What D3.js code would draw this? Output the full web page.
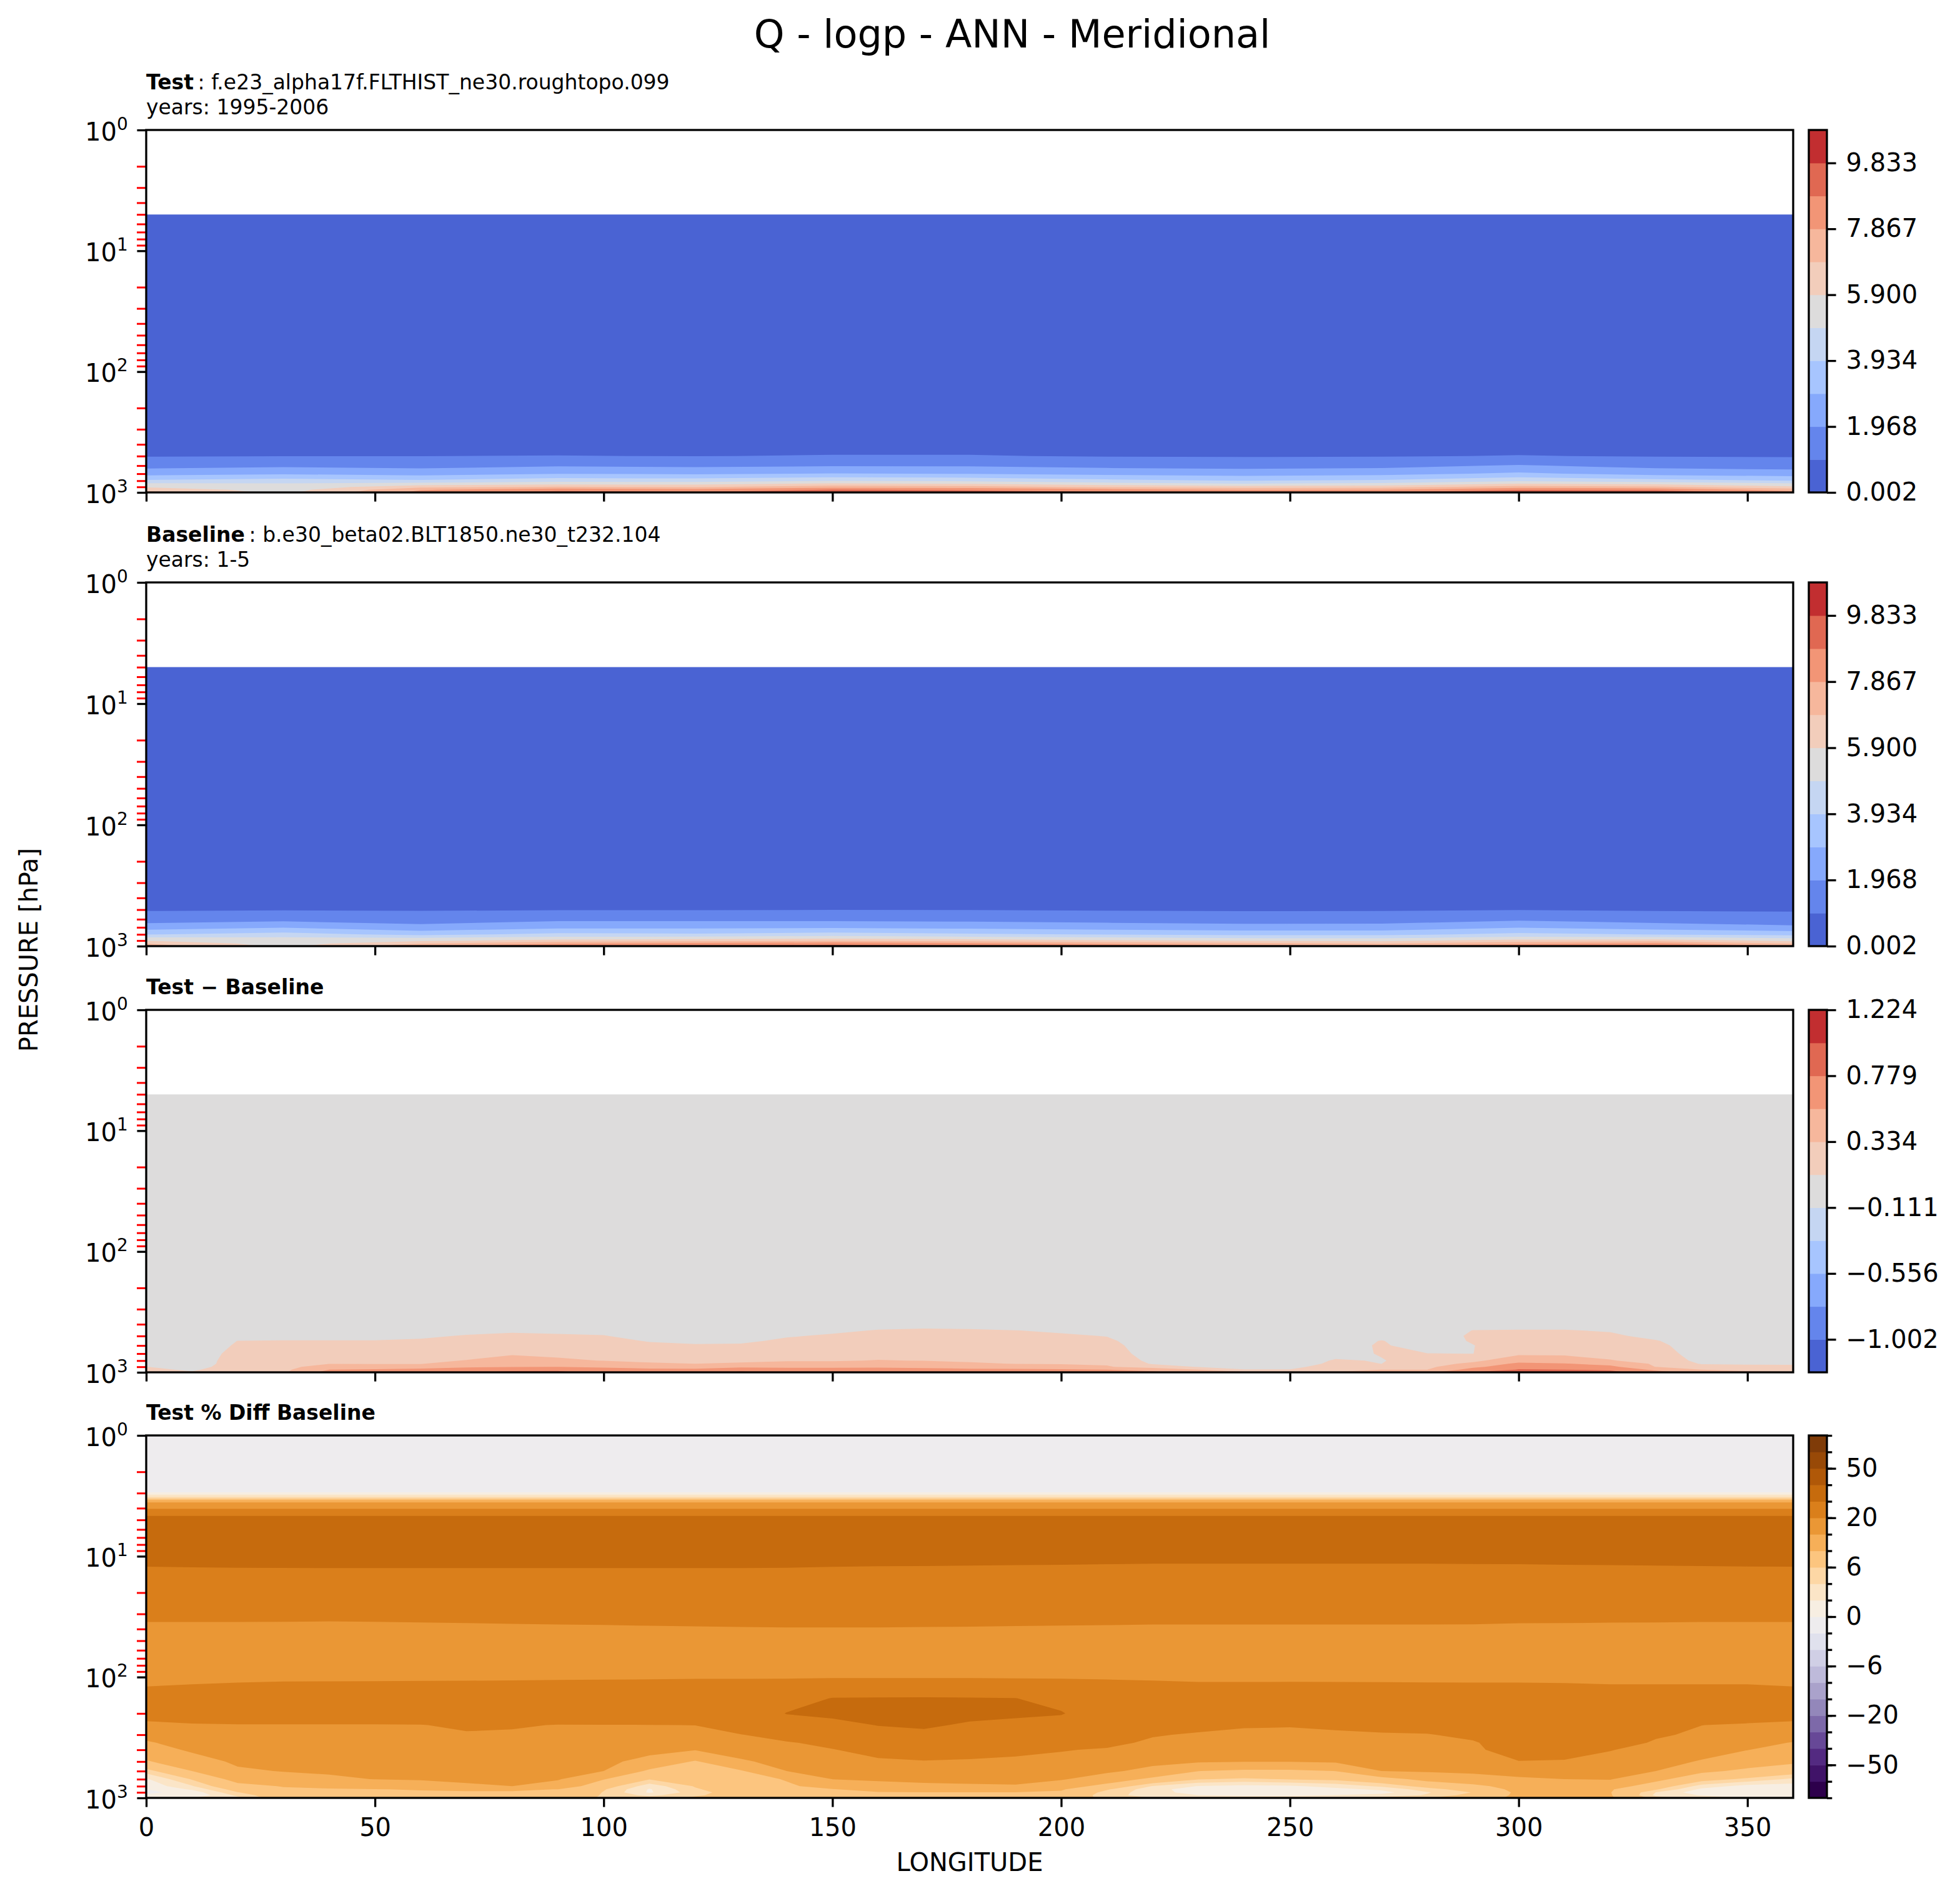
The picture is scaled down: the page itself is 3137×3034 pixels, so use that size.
<!DOCTYPE html>
<html>
<head>
<meta charset="utf-8">
<script src="https://cdn.jsdelivr.net/npm/d3@7"></script>
<style>
  body { margin: 0; background: #fff; }
  svg text { font-family: "DejaVu Sans", sans-serif; fill: #000; }
</style>
</head>
<body>
<div id="chart"></div>
<script>
// ---- grid axes ----
const lonCoarse = [0, 30, 60, 90, 120, 150, 180, 210, 240, 270, 300, 330, 360];
const lonFine = [0, 10, 20, 30, 40, 50, 60, 70, 80, 90, 100, 110, 120, 130, 140, 150, 160, 170, 180,
  190, 200, 210, 220, 230, 240, 250, 260, 270, 280, 290, 300, 310, 320, 330, 340, 350, 360];

// ---- Test Q (g/kg), rows = pressure levels, cols = lonCoarse ----
const levTest = [5, 300, 500, 600, 700, 800, 850, 900, 950, 1000];
const testQ = [
  [0.003, 0.003, 0.003, 0.003, 0.003, 0.003, 0.003, 0.003, 0.003, 0.003, 0.003, 0.003, 0.003],
  [0.30, 0.31, 0.30, 0.32, 0.31, 0.33, 0.32, 0.30, 0.29, 0.30, 0.32, 0.30, 0.29],
  [0.94, 0.97, 0.98, 1.00, 0.97, 1.02, 1.02, 0.94, 0.92, 0.94, 1.01, 0.94, 0.91],
  [1.62, 1.78, 1.66, 1.87, 1.78, 1.89, 1.87, 1.68, 1.60, 1.68, 2.05, 1.65, 1.54],
  [2.59, 2.83, 2.59, 2.92, 2.83, 2.99, 2.92, 2.68, 2.54, 2.66, 3.11, 2.63, 2.43],
  [4.12, 4.38, 4.12, 4.53, 4.47, 4.88, 4.71, 4.23, 3.92, 4.10, 4.75, 4.30, 3.92],
  [5.13, 5.04, 5.33, 5.67, 5.59, 6.10, 5.90, 5.36, 5.02, 5.18, 6.00, 5.70, 5.11],
  [5.76, 5.23, 6.59, 6.98, 6.79, 7.47, 7.28, 6.69, 6.39, 6.44, 7.38, 7.08, 6.10],
  [6.62, 5.43, 7.78, 8.48, 8.24, 8.90, 8.74, 8.24, 7.77, 7.87, 8.80, 8.60, 7.47],
  [7.20, 5.60, 8.20, 9.30, 9.00, 9.90, 9.20, 9.00, 9.00, 8.90, 9.40, 9.85, 8.30]
];

// ---- Baseline Q ----
const levBase = [5, 300, 500, 600, 700, 800, 850, 900, 950, 1000];
const baseQ = [
  [0.003, 0.003, 0.003, 0.003, 0.003, 0.003, 0.003, 0.003, 0.003, 0.003, 0.003, 0.003, 0.003],
  [0.29, 0.30, 0.29, 0.31, 0.30, 0.32, 0.31, 0.29, 0.28, 0.29, 0.31, 0.29, 0.28],
  [0.90, 0.93, 0.91, 0.94, 0.94, 0.96, 0.95, 0.92, 0.89, 0.90, 0.95, 0.90, 0.88],
  [1.51, 1.65, 1.49, 1.74, 1.74, 1.72, 1.66, 1.57, 1.47, 1.49, 1.78, 1.51, 1.38],
  [2.46, 2.87, 2.30, 2.73, 2.73, 2.79, 2.69, 2.49, 2.36, 2.36, 2.89, 2.51, 2.17],
  [3.88, 4.33, 3.64, 4.20, 4.09, 4.35, 4.09, 3.88, 3.66, 3.66, 4.20, 3.89, 3.64],
  [4.97, 5.00, 4.82, 5.18, 5.24, 5.45, 5.22, 4.99, 4.67, 4.67, 5.18, 5.10, 4.67],
  [5.81, 5.22, 5.65, 6.24, 6.48, 6.74, 6.44, 6.05, 5.79, 5.62, 6.24, 6.44, 5.62],
  [6.84, 5.41, 6.82, 7.79, 8.06, 8.47, 8.06, 7.55, 7.18, 6.82, 7.61, 8.06, 6.82],
  [7.50, 5.60, 8.00, 8.50, 9.00, 9.30, 9.00, 8.90, 8.30, 8.00, 8.60, 9.00, 8.00]
];

// ---- Test - Baseline, cols = lonFine ----
const levDiff = [5, 300, 400, 450, 500, 550, 600, 700, 800, 850, 900, 950, 1000];
const diffQ = [
  [0,0,0,0,0,0,0,0,0,0,0,0,0,0,0,0,0,0,0,0,0,0,0,0,0,0,0,0,0,0,0,0,0,0,0,0,0],
  [0,0,0,0,0,0,0,0,0,0,0,0,0,0,0,0,0,0,0,0,0,0,0,0,0,0,0,0,0,0,0,0,0,0,0,0,0],
  [0,0,0,0,0,0,0,0,0,0,0,0,0,0,0,0,0.038,0.063,0.054,0.022,0,0,0,0,0,0,0,0,0,0.016,0.038,0.035,0,0,0,0,0],
  [0,0,0,0,0,0,0,0.054,0.086,0.07,0.048,0,0,0,0.013,0.076,0.121,0.132,0.127,0.114,0.086,0.022,0,0,0,0,0,0,0,0.115,0.122,0.121,0.095,0,0,0,0],
  [0,0,0.04,0.058,0.058,0.058,0.079,0.125,0.146,0.134,0.121,0.025,0,0,0.095,0.135,0.16,0.167,0.161,0.149,0.136,0.105,0,0,0,0,0,0.057,0,0.14,0.164,0.163,0.145,0.057,0,0,0],
  [0,0,0.113,0.12,0.12,0.12,0.135,0.168,0.192,0.177,0.163,0.1,0.07,0.076,0.146,0.173,0.196,0.2,0.192,0.181,0.169,0.145,0,0,0,0,0,0.12,0,0.13,0.202,0.2,0.184,0.123,0,0,0],
  [0,0,0.13,0.146,0.165,0.163,0.173,0.206,0.235,0.216,0.2,0.151,0.132,0.136,0.186,0.207,0.228,0.23,0.221,0.211,0.2,0.179,0,0,0,0,0,0.14,0,0.105,0.237,0.236,0.219,0.16,0,0,0],
  [0,0,0.17,0.193,0.237,0.234,0.241,0.276,0.31,0.286,0.27,0.234,0.221,0.226,0.258,0.268,0.286,0.284,0.272,0.264,0.254,0.239,0,0,0,0,0.041,0.125,0.115,0.108,0.3,0.298,0.282,0.224,0,0,0],
  [0.02,0,0.2,0.232,0.299,0.295,0.298,0.34,0.419,0.37,0.327,0.304,0.297,0.302,0.318,0.32,0.34,0.329,0.315,0.308,0.3,0.29,0.051,0,0,0,0.13,0.1,0.2,0.29,0.456,0.432,0.343,0.278,0.044,0.035,0.035],
  [0.07,0,0.21,0.25,0.328,0.325,0.324,0.442,0.483,0.466,0.423,0.353,0.334,0.356,0.396,0.396,0.442,0.415,0.352,0.33,0.323,0.314,0.092,0.054,0,0,0.16,0.11,0.25,0.38,0.608,0.571,0.485,0.304,0.095,0.085,0.085],
  [0.114,0.03,0.22,0.27,0.432,0.434,0.459,0.53,0.54,0.55,0.527,0.49,0.469,0.512,0.52,0.52,0.53,0.509,0.476,0.456,0.412,0.349,0.247,0.098,0.067,0.067,0.19,0.2,0.29,0.5,0.712,0.675,0.614,0.327,0.198,0.17,0.165],
  [0.16,0.08,0.24,0.285,0.556,0.58,0.61,0.64,0.705,0.737,0.62,0.6,0.6,0.705,0.627,0.627,0.627,0.613,0.596,0.596,0.58,0.556,0.464,0.334,0.115,0.115,0.25,0.334,0.334,0.65,0.79,0.779,0.75,0.505,0.334,0.26,0.24],
  [0.2,0.13,0.25,0.3,0.65,0.7,0.72,0.75,0.85,0.83,0.7,0.7,0.7,0.82,0.72,0.72,0.72,0.72,0.7,0.7,0.68,0.65,0.62,0.45,0.4,0.38,0.35,0.5,0.5,0.8,0.95,0.9,0.85,0.65,0.45,0.4,0.35]
];

// ---- Test % Diff Baseline, cols = lonFine ----
const levPct = [1, 2.9, 3.1, 3.25, 3.35, 3.5, 4.1, 4.7, 8, 11, 13, 30, 45, 70, 100, 130, 150,
  200, 250, 300, 350, 400, 500, 600, 700, 800, 850, 900, 950, 1000];
const pctQ = [
  [-1,-1,-1,-1,-1,-1,-1,-1,-1,-1,-1,-1,-1,-1,-1,-1,-1,-1,-1,-1,-1,-1,-1,-1,-1,-1,-1,-1,-1,-1,-1,-1,-1,-1,-1,-1,-1],
  [-0.9,-0.9,-0.9,-0.9,-0.9,-0.9,-0.9,-0.9,-0.9,-0.9,-0.9,-0.9,-0.9,-0.9,-0.9,-0.9,-0.9,-0.9,-0.9,-0.9,-0.9,-0.9,-0.9,-0.9,-0.9,-0.9,-0.9,-0.9,-0.9,-0.9,-0.9,-0.9,-0.9,-0.9,-0.9,-0.9,-0.9],
  [2.2,2.2,2.2,2.2,2.2,2.2,2.2,2.2,2.2,2.2,2.2,2.2,2.2,2.2,2.2,2.2,2.2,2.2,2.2,2.2,2.2,2.2,2.2,2.2,2.2,2.2,2.2,2.2,2.2,2.2,2.2,2.2,2.2,2.2,2.2,2.2,2.2],
  [4.3,4.3,4.3,4.3,4.3,4.3,4.3,4.3,4.3,4.3,4.3,4.3,4.3,4.3,4.3,4.3,4.3,4.3,4.3,4.3,4.3,4.3,4.3,4.3,4.3,4.3,4.3,4.3,4.3,4.3,4.3,4.3,4.3,4.3,4.3,4.3,4.3],
  [6.5,6.5,6.5,6.5,6.5,6.5,6.5,6.5,6.5,6.5,6.5,6.5,6.5,6.5,6.5,6.5,6.5,6.5,6.5,6.5,6.5,6.5,6.5,6.5,6.5,6.5,6.5,6.5,6.5,6.5,6.5,6.5,6.5,6.5,6.5,6.5,6.5],
  [14,14,14,14,14,14,14,14,14,14,14,14,14,14,14,14,14,14,14,14,14,14,14,14,14,14,14,14,14,14,14,14,14,14,14,14,14],
  [20.5,20.5,20.5,20.5,20.5,20.5,20.5,20.5,20.5,20.5,20.5,20.5,20.5,20.5,20.5,20.5,20.5,20.5,20.5,20.5,20.5,20.5,20.5,20.5,20.5,20.5,20.5,20.5,20.5,20.5,20.5,20.5,20.5,20.5,20.5,20.5,20.5],
  [31,31,31,31,31,31,31,31,31,31,31,31,31,31,31,31,31,31,31,31,31,31,31,31,31,31,31,31,31,31,31,31,31,31,31,31,31],
  [36,36,36,36,36,36,36,36,36,36,36,36,36,36,36,36,36,36,36,36,36,36,36,36,36,36,36,36,36,36,36,36,36,36,36,36,36],
  [31.6,32.2,32.8,33.2,33.6,33.6,33.6,33.6,33.6,33.6,33.6,33.6,33.6,33.6,32.8,31.8,31.3,31.2,31.0,30.8,30.7,30.5,30.4,30.4,30.4,30.4,30.4,30.4,30.4,30.45,30.5,30.7,30.8,31.0,31.2,31.45,31.6],
  [29,29,29,29,29,29,29,29,29,29,29,29,29,29,29,29,29,29,29,29,29,29,29,29,29,29,29,29,29,29,29,29,29,29,29,29,29],
  [22,22,22,22,22,22,22,22,22,22,22,22,22,22,22,22,22,22,22,22,22,22,22,22,22,22,22,22,22,22,22,22,22,22,22,22,22],
  [16.77,16.77,16.77,16.64,16.33,16.64,17.02,17.36,17.74,18.0,18.15,18.42,18.6,18.76,18.86,18.86,18.86,18.76,18.66,18.5,18.35,18.22,18.0,18.0,18.0,18.0,18.0,18.0,18.0,17.92,17.46,17.36,17.15,17.02,16.77,16.77,16.77],
  [17.2,17.2,17.2,17.2,17.2,17.2,17.2,17.2,17.2,17.2,17.2,17.2,17.2,17.2,17.2,17.2,17.2,17.2,17.2,17.2,17.2,17.2,17.2,17.2,17.2,17.2,17.2,17.2,17.2,17.2,17.2,17.2,17.2,17.2,17.2,17.2,17.2],
  [18.9,18.9,19.0,19.05,19.05,19.05,19.1,19.1,19.15,19.2,19.25,19.3,19.4,19.4,19.45,19.5,19.5,19.5,19.5,19.4,19.35,19.25,19.1,19.0,19.0,19.0,19.0,19.0,19.0,19.0,19.0,19.0,18.9,18.9,18.9,18.9,18.9],
  [20.5,21.0,21.5,22.0,22.1,22.2,22.3,22.5,22.7,23.0,23.3,23.6,24.0,24.0,24.3,26.0,26.25,26.55,26.1,25.7,24.65,23.5,22.7,21.8,21.8,21.9,21.8,21.7,21.6,21.5,21.5,21.3,21.0,21.0,21.0,21.0,20.5],
  [24,24,24,24,24,24,24,24,24,24,24,24,24,24,26.6,30.3,30.55,30.55,30.45,30.15,27.05,24,24,24,24,24,24,24,24,24,24,24,24,24,24,24,24],
  [22.7,23.7,24,24,24,24,24,24,24,24,24,24,24,24,30.3,31.75,32.9,33.4,31.95,31.35,30.6,24,24,24,24,24,24,24,24,24,24,24,24,24,24,23.7,22.7],
  [18.6,19.4,19.7,19.7,19.7,19.7,19.8,21.05,20.55,19.8,19.85,19.9,20.05,24,26,27.7,30.25,31.05,29.1,28.05,26.45,24,24,22.05,20.55,20.35,21.05,22.05,23.05,24,24,24,24,24,20.05,19.3,18.65],
  [16.4,18.0,18.7,18.8,18.8,18.9,19.05,19.4,19.3,19.05,18.85,18.5,18.15,19.8,22.5,23.7,26.8,28.4,26.2,25.0,23.75,24,20.5,19.3,18.85,18.8,19.1,19.4,19.65,21.5,24,24,24,21,18.65,17.7,16.6],
  [14.5,16.75,17.8,18.0,18.1,18.2,18.4,18.7,18.6,18.4,18.0,17.3,16.55,18.3,19.5,21.5,23.8,25.1,23.8,22.9,21.9,21.6,18.9,18.1,17.75,17.7,18.0,18.4,18.7,19.35,24,24,23.6,19.1,17.5,16.3,14.8],
  [12.8,15.7,17.05,17.3,17.5,17.6,17.8,18.1,18.0,17.8,17.25,16.3,15.2,17.0,18.4,19.75,22.1,23.0,22.1,21.3,20.35,19.4,17.9,17.15,16.8,16.75,17.1,17.55,17.9,18.45,24,24,20.25,18.05,16.55,15.1,13.3],
  [9.6,12.9,15.8,16.15,16.4,16.6,16.8,17.1,17.05,16.8,16.0,13.6,9.6,14.4,16.5,17.9,19.1,19.75,19.45,19.0,18.3,17.35,16.1,15.5,15.2,15.2,15.65,16.15,16.6,16.95,19.75,19.3,18.15,16.4,14.7,12.0,10.75],
  [5.0,10.0,14.3,15.2,15.6,15.8,16.0,16.25,16.25,16.0,15.0,9.2,8.3,9.6,15.0,16.35,17.3,17.8,17.7,17.4,16.75,15.7,13.8,10.05,9.15,9.2,10.05,15.0,15.5,15.75,16.9,17.0,16.55,15.0,10.85,9.15,7.6],
  [1.7,6.2,11.55,12.8,14.2,15.1,15.4,15.6,15.6,15.4,10.2,6.1,7.2,8.8,10.2,15.05,15.8,16.15,16.15,16.1,15.4,12.7,8.9,6.2,5.55,6.15,6.6,8.2,11.35,13.4,14.3,15.0,15.25,11.15,7.15,5.5,3.55],
  [0.5,3.8,8.8,10.2,10.8,11.6,12.9,14.5,15.0,12.6,7.45,2.8,6.2,8.1,9.6,11.0,13.1,14.0,14.4,14.7,12.3,8.4,3.85,1.9,1.4,1.7,2.7,4.4,6.95,8.8,12.0,12.7,12.0,7.8,3.1,1.2,1.05],
  [0.0,2.3,7.3,9.55,9.7,9.9,10.2,10.75,10.8,9.9,6.25,1.8,5.7,7.8,9.5,9.85,11.1,11.9,12.0,12.2,10.4,6.25,2.7,1.0,0.15,0.4,1.4,2.4,5.05,7.3,11.2,11.6,10.35,6.3,1.5,0.2,0.35],
  [-0.4,0.7,5.85,9.0,9.1,9.3,9.6,9.5,9.5,9.35,5.85,1.7,5.1,7.5,9.3,9.6,9.8,9.95,9.95,9.95,9.55,5.1,2.95,1.0,0.2,0.35,0.7,1.25,3.8,6.1,10.8,10.5,10.15,3.95,0.65,0.15,0.4],
  [0.3,0.3,4.5,8.5,8.5,8.7,9.0,9.0,9.0,8.8,5.7,3.4,5.65,7.3,9.15,9.3,9.4,9.5,9.5,9.5,9.05,4.6,3.3,2.0,1.6,1.6,2.05,2.75,4.2,7.05,10.8,10.8,10.3,3.5,1.85,1.1,1.2],
  [1,2,3.5,8,8,8.2,8.3,8.5,8.5,8.3,5.5,5,6.5,7,9,9,9,9,9,9,8.5,5,4,3,3,3,4,5,6,8,11,11,10.5,5,3,2,2]
];

// ---- contour levels and colorbar ticks ----
const qLevels = [0.002, 0.985, 1.968, 2.951, 3.934, 4.917, 5.900, 6.884, 7.867, 8.850, 9.833, 10.816];
const diffLevels = [-1.2246, -1.0020, -0.7794, -0.5568, -0.3342, -0.1116, 0.1110, 0.3336, 0.5562, 0.7788, 1.0014, 1.2240];
const pctLevels = [-100, -75, -50, -40, -30, -20, -15, -10, -6, -4, -2, 0, 2, 4, 6, 10, 15, 20, 30, 40, 50, 75, 100];
const qTicks = [0.002, 1.968, 3.934, 5.900, 7.867, 9.833];
const diffTicks = [-1.002, -0.556, -0.111, 0.334, 0.779, 1.224];
const pctTicks = [-50, -20, -6, 0, 6, 20, 50];
const lonTicks = [0, 50, 100, 150, 200, 250, 300, 350];
const pTicks = [1, 10, 100, 1000];

const coolwarm = ["#4a63d3", "#6485ec", "#86a9fc", "#a7c5fe", "#c5d6f2", "#dddcdc",
  "#f2cdbb", "#f6b79c", "#f29576", "#e06852", "#c22e30"];
// purple at the bottom band, brown at the top band
const puor = d3.range(22).map(i => d3.interpolatePuOr(i / 21));

// ---- layout ----
const width = 3137;
const height = 3034;
const plotLeft = 234;
const plotRight = 2870;
const cbarLeft = 2895;
const cbarWidth = 29;
const tickLen = 14.6;
const lw = 3.3;
const font = "DejaVu Sans";

const svg = d3.select("#chart").append("svg")
  .attr("width", width)
  .attr("height", height);
svg.append("rect").attr("width", width).attr("height", height).attr("fill", "#fff");

const panels = [
  { top: 208, bottom: 788, lons: lonCoarse, levs: levTest, grid: testQ, levels: qLevels,
    colors: coolwarm, ticks: qTicks, fmt: d3.format(".3f"),
    head: ["Test", "\u2009: f.e23_alpha17f.FLTHIST_ne30.roughtopo.099"], years: "years: 1995-2006" },
  { top: 932, bottom: 1514, lons: lonCoarse, levs: levBase, grid: baseQ, levels: qLevels,
    colors: coolwarm, ticks: qTicks, fmt: d3.format(".3f"),
    head: ["Baseline", "\u2009: b.e30_beta02.BLT1850.ne30_t232.104"], years: "years: 1-5" },
  { top: 1616, bottom: 2196, lons: lonFine, levs: levDiff, grid: diffQ, levels: diffLevels,
    colors: coolwarm, ticks: diffTicks, fmt: d3.format(".3f"),
    head: ["Test \u2212 Baseline", ""] },
  { top: 2297, bottom: 2877, lons: lonFine, levs: levPct, grid: pctQ, levels: pctLevels,
    colors: puor, ticks: pctTicks, fmt: d3.format("d"), minor: true, xLabels: true,
    head: ["Test % Diff Baseline", ""] }
];

const x = d3.scaleLinear().domain([0, 360]).range([plotLeft, plotRight]);
const minorP = [1, 10, 100].flatMap(d => [2, 3, 4, 5, 6, 7, 8, 9].map(m => m * d));

panels.forEach((p, k) => {
  const y = d3.scaleLog().domain([1, 1000]).range([p.top, p.bottom]);
  const nx = p.lons.length, ny = p.levs.length;
  const values = p.grid.flat();
  const vmin = d3.min(values);

  // grid index -> data coordinates (pixel centres of d3.contours sit at i + 0.5)
  const lonAt = d3.scaleLinear().domain(d3.range(nx)).range(p.lons);
  const logpAt = d3.scaleLinear().domain(d3.range(ny)).range(p.levs.map(Math.log10));
  const clampIdx = (g, n) => Math.max(0, Math.min(n - 1, g - 0.5));
  const path = d3.geoPath(d3.geoTransform({
    point(gx, gy) {
      this.stream.point(x(lonAt(clampIdx(gx, nx))), y(Math.pow(10, logpAt(clampIdx(gy, ny)))));
    }
  }));

  const bands = d3.contours()
    .size([nx, ny])
    .thresholds(p.levels.slice(0, -1))(values)
    .map((c, i) => ({ c, i }))
    .filter(d => vmin < p.levels[d.i + 1]);

  svg.append("clipPath").attr("id", "clip" + k)
    .append("rect")
    .attr("x", plotLeft).attr("y", p.top)
    .attr("width", plotRight - plotLeft).attr("height", p.bottom - p.top);

  svg.append("g")
    .attr("clip-path", `url(#clip${k})`)
    .selectAll("path")
    .data(bands)
    .join("path")
    .attr("d", d => path(d.c))
    .attr("fill", d => p.colors[d.i])
    .attr("fill-rule", "evenodd");

  // x axis
  const ax = svg.append("g")
    .attr("transform", `translate(0,${p.bottom})`)
    .call(d3.axisBottom(x).tickValues(lonTicks).tickSize(tickLen).tickPadding(18)
      .tickFormat(p.xLabels ? d3.format("d") : () => ""))
    .attr("font-size", 40)
    .attr("font-family", font);
  ax.select(".domain").remove();
  ax.selectAll(".tick line").attr("stroke", "#000").attr("stroke-width", lw);

  // y axis: red minor ticks, black majors
  const ym = svg.append("g")
    .attr("transform", `translate(${plotLeft},0)`)
    .call(d3.axisLeft(y).tickValues(minorP).tickSize(15).tickFormat(() => ""));
  ym.select(".domain").remove();
  ym.selectAll(".tick line").attr("stroke", "red").attr("stroke-width", 3);

  const yM = svg.append("g")
    .attr("transform", `translate(${plotLeft},0)`)
    .call(d3.axisLeft(y).tickValues(pTicks).tickSize(tickLen).tickFormat(() => ""));
  yM.select(".domain").remove();
  yM.selectAll(".tick line").attr("stroke", "#000").attr("stroke-width", lw);

  const yl = svg.append("g").selectAll("text")
    .data(pTicks)
    .join("text")
    .attr("x", plotLeft - tickLen - 14.6)
    .attr("y", d => y(d) + 16.5)
    .attr("text-anchor", "end")
    .attr("font-size", 40);
  yl.append("tspan").text("10");
  yl.append("tspan").attr("font-size", 28).attr("dy", -17).text(d => Math.round(Math.log10(d)));

  // frame
  svg.append("rect")
    .attr("x", plotLeft).attr("y", p.top)
    .attr("width", plotRight - plotLeft).attr("height", p.bottom - p.top)
    .attr("fill", "none").attr("stroke", "#000").attr("stroke-width", lw);

  // colorbar
  const nb = p.colors.length;
  const cb = d3.scaleLinear().domain([0, nb]).range([p.bottom, p.top]);
  svg.append("g").selectAll("rect")
    .data(p.colors)
    .join("rect")
    .attr("x", cbarLeft).attr("width", cbarWidth)
    .attr("y", (d, i) => cb(i + 1))
    .attr("height", (d, i) => cb(i) - cb(i + 1) + 0.6)
    .attr("fill", d => d);
  svg.append("rect")
    .attr("x", cbarLeft).attr("y", p.top)
    .attr("width", cbarWidth).attr("height", p.bottom - p.top)
    .attr("fill", "none").attr("stroke", "#000").attr("stroke-width", lw);

  if (p.minor) {
    const cm = svg.append("g")
      .attr("transform", `translate(${cbarLeft + cbarWidth},0)`)
      .call(d3.axisRight(cb).tickValues(d3.range(nb + 1)).tickSize(8.3).tickFormat(() => ""));
    cm.select(".domain").remove();
    cm.selectAll(".tick line").attr("stroke", "#000").attr("stroke-width", lw);
  }
  const tickIdx = p.ticks.map(v => d3.minIndex(p.levels, l => Math.abs(l - v)));
  const ca = svg.append("g")
    .attr("transform", `translate(${cbarLeft + cbarWidth},0)`)
    .call(d3.axisRight(cb).tickValues(tickIdx).tickSize(tickLen).tickPadding(16)
      .tickFormat((d, i) => p.fmt(p.ticks[i])))
    .attr("font-size", 40)
    .attr("font-family", font);
  ca.select(".domain").remove();
  ca.selectAll(".tick line").attr("stroke", "#000").attr("stroke-width", lw);

  // panel heading
  const headY = p.years ? p.top - 65 : p.top - 25;
  const h = svg.append("text").attr("x", plotLeft).attr("y", headY).attr("font-size", 33);
  h.append("tspan").attr("font-weight", "bold").text(p.head[0]);
  h.append("tspan").text(p.head[1]);
  if (p.years) {
    svg.append("text").attr("x", plotLeft).attr("y", p.top - 25).attr("font-size", 33).text(p.years);
  }
});

// figure labels
svg.append("text")
  .attr("x", 1620).attr("y", 76)
  .attr("text-anchor", "middle")
  .attr("font-size", 62)
  .text("Q - logp - ANN - Meridional");

svg.append("text")
  .attr("x", (plotLeft + plotRight) / 2).attr("y", 2994)
  .attr("text-anchor", "middle")
  .attr("font-size", 40)
  .text("LONGITUDE");

svg.append("text")
  .attr("transform", "translate(46,1520) rotate(-90)")
  .attr("text-anchor", "middle")
  .attr("dominant-baseline", "central")
  .attr("font-size", 40)
  .text("PRESSURE [hPa]");
</script>
</body>
</html>
